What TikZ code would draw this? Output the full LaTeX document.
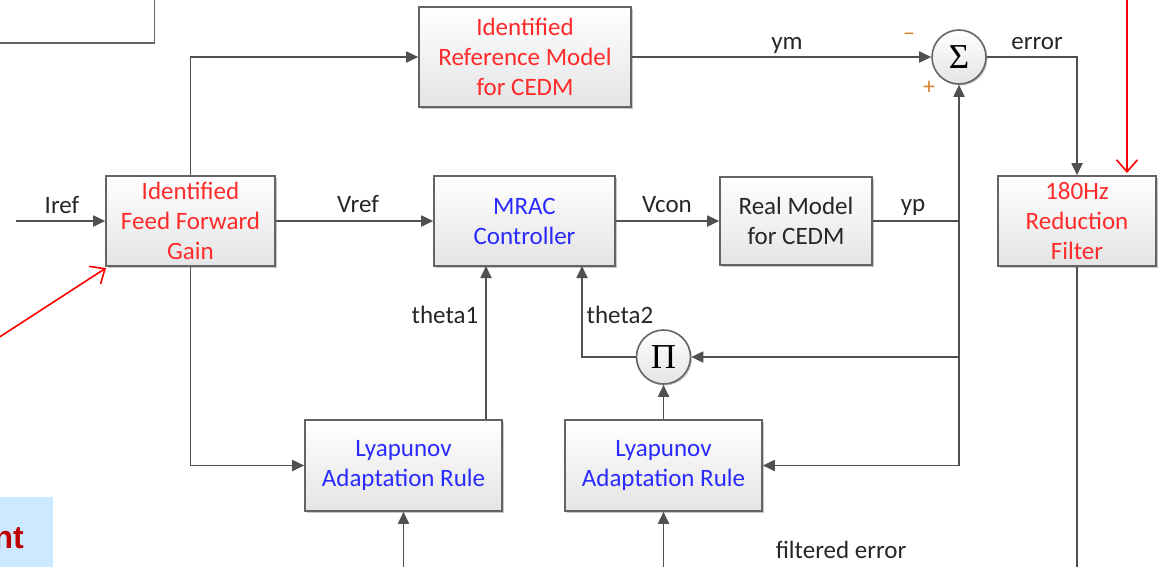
\documentclass[tikz,border=0pt]{standalone}
\usepackage{fontspec}
\setmainfont{Carlito}
\newfontfamily\boldsans{Liberation Sans}
\newfontfamily\symserif{Liberation Serif}
\usetikzlibrary{arrows.meta,shadows}
\definecolor{linegray}{HTML}{505050}
\definecolor{boxgray}{HTML}{646464}
\definecolor{fillgray}{HTML}{E4E4E4}
\definecolor{idred}{HTML}{FF2A2A}
\definecolor{ctlblue}{HTML}{2A2AFF}
\definecolor{signorange}{HTML}{D9822B}
\definecolor{notefill}{HTML}{CCE9FF}
\definecolor{notered}{HTML}{C00000}
\tikzset{
  block/.style={rectangle, draw=boxgray, line width=1.6pt,
    top color=white, bottom color=fillgray,
    drop shadow={shadow xshift=1.5pt, shadow yshift=-1.5pt, fill=black, opacity=0.22},
    inner sep=0pt, align=center, font=\fontsize{25}{30}\selectfont},
  junction/.style={circle, draw=boxgray, line width=1.6pt,
    top color=white, bottom color=fillgray,
    drop shadow={shadow xshift=1.5pt, shadow yshift=-1.5pt, fill=black, opacity=0.22},
    minimum size=54pt, inner sep=0pt, font=\symserif\fontsize{35}{35}\selectfont},
  wire/.style={draw=linegray, line width=1.8pt},
  conn/.style={wire, -{Triangle[length=12pt,width=11pt]}},
  pointer/.style={draw=red, line width=1.6pt, -{Straight Barb[length=12pt,width=21pt]}},
  lbl/.style={font=\fontsize{25}{30}\selectfont, text=black!85, inner sep=0pt, anchor=base},
  sign/.style={font=\fontsize{24}{24}\selectfont, text=signorange, inner sep=0pt},
}
\begin{document}
\begin{tikzpicture}[x=1pt, y=-1pt]
\useasboundingbox (0,0) rectangle (1161,566);

% edge of a neighbouring frame
\draw[draw=boxgray, line width=1.6pt] (-5,43) -- (154.5,43) -- (154.5,-5);

% blocks
\node[block, minimum width=169pt, minimum height=90pt, text=idred] (ff) at (190.5,221)
  {Identified\\Feed Forward\\Gain};
\node[block, minimum width=212pt, minimum height=100pt, text=idred] (ref) at (525,57)
  {Identified\\Reference Model\\for CEDM};
\node[block, minimum width=181pt, minimum height=90pt, text=ctlblue] (mrac) at (524.5,221)
  {MRAC\\Controller};
\node[block, minimum width=152pt, minimum height=88pt, text=black!85] (real) at (796,221)
  {Real Model\\for CEDM};
\node[block, minimum width=158pt, minimum height=90pt, text=idred] (filt) at (1077,221)
  {180Hz\\Reduction\\Filter};
\node[block, minimum width=197pt, minimum height=91pt, text=ctlblue] (ly1) at (403.5,465.5)
  {Lyapunov\\Adaptation Rule};
\node[block, minimum width=197pt, minimum height=91pt, text=ctlblue] (ly2) at (663.5,465.5)
  {Lyapunov\\Adaptation Rule};
\node[junction] (sum) at (959,57) {Σ};
\node[junction] (pi) at (663.5,357) {Π};

% junction points and free ends
\coordinate (iin) at (16,221);
\coordinate (tap) at (959,221);
\coordinate (tapb) at (959,465.5);
\coordinate (th1) at (486,266);
\coordinate (th2) at (582,266);
\coordinate (in1) at (403.5,570);
\coordinate (in2) at (663.5,570);
\coordinate (fout) at (1077,570);
\coordinate (ptrA) at (1127,-5);
\coordinate (ptrB) at (1127,173);
\coordinate (ptrC) at (-2,338);
\coordinate (ptrD) at (106,268);

% signal paths
\draw[conn] (iin) -- (ff.west);
\draw[conn] (ff.north) |- (ref.west);
\draw[conn] (ref.east) -- (sum.west);
\draw[conn] (sum.east) -| (filt.north);
\draw[conn] (ff.east) -- (mrac.west);
\draw[conn] (mrac.east) -- (real.west);
\draw[wire] (real.east) -- (tap);
\draw[conn] (tapb) -- (sum.south);
\draw[conn] (tapb) -- (ly2.east);
\draw[conn] (pi.east -| tap) -- (pi.east);
\draw[conn] (pi.west) -| (th2);
\draw[conn] (ly1.north -| th1) -- (th1);
\draw[conn] (ly2.north) -- (pi.south);
\draw[conn] (ff.south) |- (ly1.west);
\draw[conn] (in1) -- (ly1.south);
\draw[conn] (in2) -- (ly2.south);
\draw[wire] (filt.south) -- (fout);

% red pointers
\draw[pointer] (ptrA) -- (ptrB);
\draw[pointer] (ptrC) -- (ptrD);

% signal labels
\node[lbl] (lIref) at (62,213) {Iref};
\node[lbl] (lVref) at (358,212) {Vref};
\node[lbl] (lVcon) at (667,212) {Vcon};
\node[lbl] (lyp) at (913,211) {yp};
\node[lbl] (lym) at (787,49) {ym};
\node[lbl] (lerr) at (1037,49) {error};
\node[lbl] (lth1) at (445,323) {theta1};
\node[lbl] (lth2) at (620,323) {theta2};
\node[lbl] (lferr) at (841,558) {filtered error};
\node[sign] (sminus) at (909,37) {–};
\node[sign] (splus) at (929,88) {+};

% note panel
\fill[notefill] (-5,497) rectangle (53,571);
\node[font=\boldsans\bfseries\fontsize{32}{32}\selectfont, text=notered, inner sep=0pt, anchor=base east]
  (note) at (24,548) {nt};
\end{tikzpicture}
\end{document}
